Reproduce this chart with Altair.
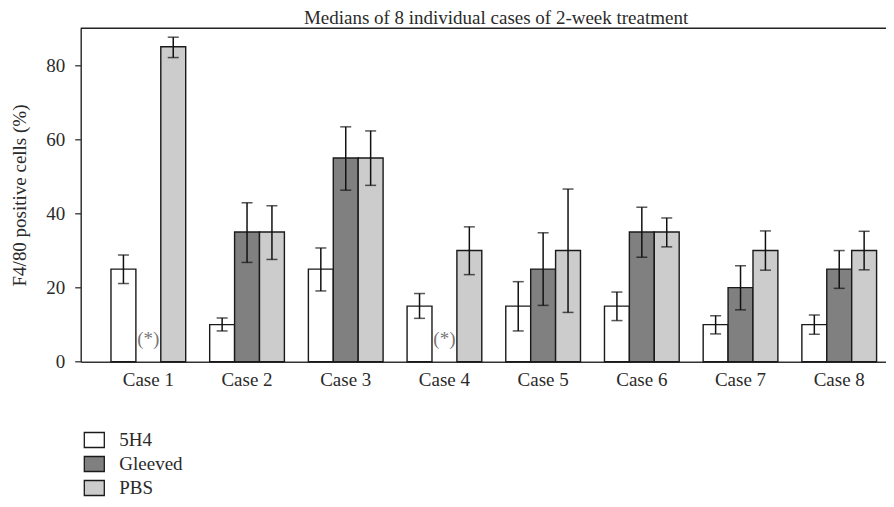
import altair as alt
import pandas as pd

cases = ["Case 1", "Case 2", "Case 3", "Case 4", "Case 5", "Case 6", "Case 7", "Case 8"]
groups = ["5H4", "Gleeved", "PBS"]
colors = ["#ffffff", "#808080", "#cccccc"]

med_5h4 = [25, 10, 25, 15, 15, 15, 10, 10]
lo_5h4 = [21.1, 8.3, 19.1, 11.7, 8.3, 11.1, 7.5, 7.4]
hi_5h4 = [28.8, 11.8, 30.7, 18.4, 21.6, 18.8, 12.4, 12.6]

med_gleeved = [None, 35, 55, None, 25, 35, 20, 25]
lo_gleeved = [None, 26.8, 46.3, None, 15.2, 28.2, 14.0, 19.8]
hi_gleeved = [None, 42.9, 63.4, None, 34.8, 41.7, 25.9, 30.0]

med_pbs = [85, 35, 55, 30, 30, 35, 30, 30]
lo_pbs = [82.1, 27.6, 47.6, 23.5, 13.3, 31.0, 24.7, 24.8]
hi_pbs = [87.6, 42.1, 62.3, 36.4, 46.6, 38.8, 35.3, 35.2]

note_cases = ["Case 1", "Case 4"]
note_group = "Gleeved"
note_text = "(*)"
note_y = 6.2

rows = []
for g, med, lo, hi in [("5H4", med_5h4, lo_5h4, hi_5h4),
                       ("Gleeved", med_gleeved, lo_gleeved, hi_gleeved),
                       ("PBS", med_pbs, lo_pbs, hi_pbs)]:
    for c, m, l, h in zip(cases, med, lo, hi):
        if m is None:
            continue
        rows.append({"case": c, "group": g, "median": m, "lo": l, "hi": h})
df = pd.DataFrame(rows)
notes = pd.DataFrame({"case": note_cases, "group": [note_group] * len(note_cases),
                      "y": [note_y] * len(note_cases), "t": [note_text] * len(note_cases)})

FONT = "Liberation Serif"
TXT = "#2a2a2a"

x_enc = alt.X("case:N", sort=cases, title=None,
              scale=alt.Scale(paddingInner=0.243, paddingOuter=0.201, align=0.763),
              axis=alt.Axis(ticks=False, labelAngle=0, labelPadding=9, domainColor="#333",
                            domainWidth=1.5))
xo_enc = alt.XOffset("group:N", sort=groups, scale=alt.Scale(paddingInner=0, paddingOuter=0))
y_scale = alt.Scale(domain=[0, 90], nice=False, zero=True)

bars = alt.Chart(df).mark_bar(stroke="#1a1a1a", strokeWidth=1.4).encode(
    x=x_enc, xOffset=xo_enc,
    y=alt.Y("median:Q", scale=y_scale, title="F4/80 positive cells (%)",
            axis=alt.Axis(values=[0, 20, 40, 60, 80], grid=False, tickSize=6, tickColor="#333",
                          tickWidth=1.3, domainColor="#333", domainWidth=1.5, labelPadding=10,
                          titlePadding=16)),
    color=alt.Color("group:N", sort=groups,
                    scale=alt.Scale(domain=groups, range=colors),
                    legend=alt.Legend(title=None, orient="none", legendX=2.6, legendY=400.7,
                                      symbolType="M-1,-0.75H1V0.75H-1Z", symbolSize=400,
                                      symbolStrokeColor="#1a1a1a", symbolStrokeWidth=1.3,
                                      symbolOpacity=1, labelFont=FONT, labelFontSize=19,
                                      labelColor=TXT, labelOffset=14, rowPadding=2,
                                      padding=0)),
)

err = alt.Chart(df).mark_rule(color="#111", strokeWidth=1.5).encode(
    x=x_enc, xOffset=xo_enc, y=alt.Y("lo:Q", scale=y_scale), y2="hi:Q")
cap_lo = alt.Chart(df).mark_tick(color="#111", thickness=1.5, size=11, orient="horizontal").encode(
    x=x_enc, xOffset=xo_enc, y=alt.Y("lo:Q", scale=y_scale))
cap_hi = alt.Chart(df).mark_tick(color="#111", thickness=1.5, size=11, orient="horizontal").encode(
    x=x_enc, xOffset=xo_enc, y=alt.Y("hi:Q", scale=y_scale))

note_marks = alt.Chart(notes).mark_text(font=FONT, fontSize=19, color="#777").encode(
    x=x_enc, xOffset=xo_enc, y=alt.Y("y:Q", scale=y_scale), text="t:N")

top_line = alt.Chart(pd.DataFrame({"v": [90]})).mark_rule(color="#222", strokeWidth=1.5).encode(
    y=alt.Y("v:Q", scale=y_scale))

chart = alt.layer(bars, err, cap_lo, cap_hi, note_marks, top_line).properties(
    width=805.3, height=333.4,
    title=alt.TitleParams("Medians of 8 individual cases of 2-week treatment", font=FONT,
                          fontSize=19, fontWeight="normal", color=TXT, anchor="middle",
                          offset=0, dx=12.7),
    autosize=alt.AutoSizeParams(type="none"),
    padding={"left": 72.7, "top": 20.3, "right": 0, "bottom": 137},
).configure_axis(
    labelFont=FONT, labelFontSize=19, labelColor=TXT, titleFont=FONT, titleFontSize=19,
    titleFontWeight="normal", titleColor=TXT,
).configure_view(stroke=None)

chart.save("out.html", embed_options={"renderer": "svg", "actions": False})
